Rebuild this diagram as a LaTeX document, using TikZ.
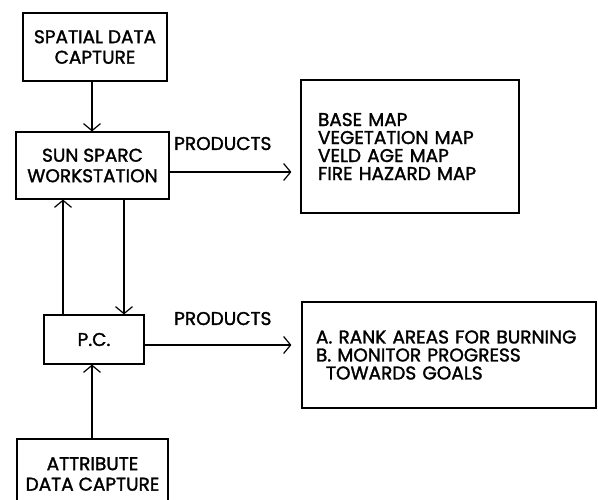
\documentclass[tikz,border=0pt]{standalone}
\usepackage{fontspec}
\setmainfont{Poppins}[FakeBold=1.6]
\usetikzlibrary{arrows.meta}
\tikzset{
  box/.style={draw, line width=1.2pt, inner sep=0pt, align=center,
    font=\fontsize{18.5}{20.5}\selectfont},
  listbox/.style={box, align=left, font=\fontsize{18.5}{18}\selectfont},
  lbl/.style={inner sep=0pt, font=\fontsize{18.5}{18}\selectfont},
  arr/.style={line width=1.2pt,
    -{Straight Barb[length=7pt,width=17pt,line width=1.2pt]}}
}
\begin{document}
\begin{tikzpicture}[x=1pt,y=-1pt]
  \useasboundingbox (0,0) rectangle (598,500);
  % boxes on the left
  \node[box, minimum width=144pt, minimum height=68pt] (spatial) at (95,47) {SPATIAL DATA\\CAPTURE};
  \node[box, minimum width=153pt, minimum height=67pt] (sun) at (92.5,165.5) {SUN SPARC\\WORKSTATION};
  \node[box, minimum width=100pt, minimum height=49pt] (pc) at (94,339.5) {P.C.};
  % attribute box runs off the bottom edge
  \node[box, draw=none, inner sep=1pt] (attr) at (92.5,474) {ATTRIBUTE\\DATA CAPTURE};
  \draw[line width=1.2pt] (17,500) |- (168,439) -- (168,500);
  % product boxes
  \node[listbox, minimum width=218pt, minimum height=133pt, text width=184pt] (maps) at (410,146.5)
    {BASE MAP\\VEGETATION MAP\\VELD AGE MAP\\FIRE HAZARD MAP};
  \node[listbox, minimum width=294pt, minimum height=106pt, text width=266pt] (goals) at (449,355)
    {A. RANK AREAS FOR BURNING\\B. MONITOR PROGRESS\\\hspace*{10pt}TOWARDS GOALS};
  \node[lbl, anchor=base west] (prod1) at (174,150) {PRODUCTS};
  \node[lbl, anchor=base west] (prod2) at (174,325) {PRODUCTS};
  % connectors
  \draw[arr] ([xshift=-3pt]spatial.south) -- ([xshift=-3pt]spatial.south |- sun.north);
  \draw[arr] ([xshift=-31pt]pc.north) -- ([xshift=-31pt]pc.north |- sun.south);
  \draw[arr] ([xshift=30pt]pc.north |- sun.south) -- ([xshift=30pt]pc.north);
  \draw[arr] ([xshift=-2pt]pc.south |- 0,439) -- ([xshift=-2pt]pc.south);
  \draw[arr, shorten >=9pt] ([yshift=-6.5pt]sun.east) -- ([yshift=-6.5pt]sun.east -| maps.west);
  \draw[arr, shorten >=10pt] ([yshift=-5.5pt]pc.east) -- ([yshift=-5.5pt]pc.east -| goals.west);
\end{tikzpicture}
\end{document}
